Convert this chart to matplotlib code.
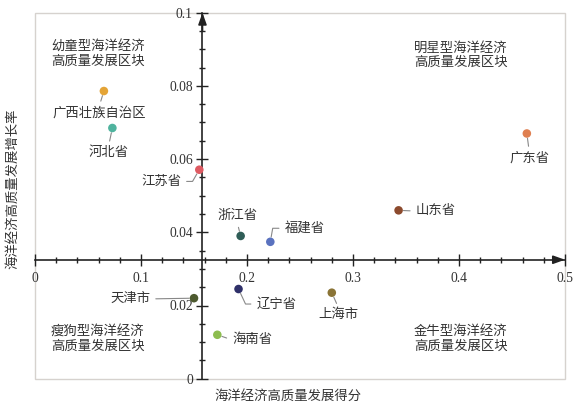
import matplotlib
matplotlib.use("Agg")
import matplotlib.pyplot as plt
from matplotlib.patches import Rectangle

plt.rcParams['font.family'] = ['Liberation Serif', 'Noto Sans CJK SC', 'DejaVu Sans']

# ---------------- data ----------------
names = ['广西壮族自治区', '河北省', '江苏省', '浙江省', '福建省', '天津市',
         '辽宁省', '海南省', '广东省', '山东省', '上海市']
score = [0.065, 0.073, 0.155, 0.194, 0.222, 0.150, 0.192, 0.172, 0.464, 0.343, 0.280]
growth = [0.0786, 0.0685, 0.0571, 0.0390, 0.0374, 0.0220, 0.0245, 0.0120, 0.0670, 0.0460, 0.0235]
colors = ['#e4a436', '#4fb39e', '#de5a62', '#2f5d57', '#5a72bf', '#4d5a2f',
          '#2f3069', '#8dbd4f', '#df7f50', '#8c4a2d', '#8a7436']
label_x = [0.0605, 0.0693, 0.1189, 0.1906, 0.2543, 0.0898, 0.2278, 0.2048, 0.4663, 0.378, 0.2867]
label_y = [0.0726, 0.0617, 0.0539, 0.0445, 0.0411, 0.0218, 0.0204, 0.0106, 0.0603, 0.0458, 0.0174]

quad_text = ['幼童型海洋经济\n高质量发展区块', '明星型海洋经济\n高质量发展区块',
             '瘦狗型海洋经济\n高质量发展区块', '金牛型海洋经济\n高质量发展区块']
quad_x = [0.0593, 0.4017, 0.0593, 0.4017]
quad_y = [0.0886, 0.0883, 0.0108, 0.0108]

x_cross = 0.158   # vertical axis position
y_cross = 0.0325  # horizontal axis position
xticks = [0, 0.1, 0.2, 0.3, 0.4, 0.5]
xtick_labels = ['0', '0.1', '0.2', '0.3', '0.4', '0.5']
yticks = [0, 0.02, 0.04, 0.06, 0.08, 0.1]
ytick_labels = ['0', '0.02', '0.04', '0.06', '0.08', '0.1']

# leader-line styles (relpos on text, connection style)
leader = [
    ((0.5, 1.0), 'arc3'),
    ((0.5, 1.0), 'arc3'),
    ((1.0, 0.5), 'angle,angleA=0,angleB=60,rad=0'),
    ((0.5, 0.0), 'arc3'),
    ((0.0, 0.5), 'angle,angleA=0,angleB=80,rad=0'),
    ((1.0, 0.5), 'arc3'),
    ((0.0, 0.5), 'angle,angleA=0,angleB=115,rad=0'),
    ((0.0, 0.5), 'arc3'),
    ((0.5, 1.0), 'arc3'),
    ((0.0, 0.5), 'arc3'),
    ((0.5, 1.0), 'arc3'),
]

# ---------------- figure ----------------
fig = plt.figure(figsize=(5.85, 4.12), dpi=100)
ax = fig.add_axes([35 / 585, 1 - 378.7 / 412, 530 / 585, (378.7 - 12.7) / 412])
ax.set_xlim(0, 0.5)
ax.set_ylim(0, 0.1)

for s in ['top', 'right']:
    ax.spines[s].set_visible(False)
ax.spines['left'].set_position(('data', x_cross))
ax.spines['bottom'].set_position(('data', y_cross))
for s in ['left', 'bottom']:
    ax.spines[s].set_color('#222222')
    ax.spines[s].set_linewidth(1.2)

frame = Rectangle((0, 0), 1, 1, transform=ax.transAxes, fill=False,
                  edgecolor='#d6d2ce', linewidth=1.0, clip_on=False, zorder=0)
ax.add_patch(frame)

ax.set_xticks(xticks)
ax.set_xticklabels(xtick_labels)
ax.set_yticks(yticks)
ax.set_yticklabels(ytick_labels)
ax.set_xticks([i * 0.02 for i in range(26)], minor=True)
ax.set_yticks([i * 0.005 for i in range(21)], minor=True)
ax.tick_params(which='major', direction='inout', length=8, width=1.0, color='#222222',
               labelsize=9.8, labelcolor='#333333')
ax.tick_params(axis='x', which='major', pad=5)
ax.tick_params(axis='y', which='major', pad=3)
ax.tick_params(which='minor', direction='inout', length=4.5, width=1.0, color='#222222')

# arrow heads
ax.annotate('', xy=(x_cross, 0.1), xytext=(x_cross, 0.095),
            arrowprops=dict(arrowstyle='-|>,head_length=0.7,head_width=0.25', color='#222222', lw=1.2,
                            shrinkA=0, shrinkB=0), annotation_clip=False)
ax.annotate('', xy=(0.5, y_cross), xytext=(0.49, y_cross),
            arrowprops=dict(arrowstyle='-|>,head_length=0.7,head_width=0.25', color='#222222', lw=1.2,
                            shrinkA=0, shrinkB=0), annotation_clip=False)

# points
ax.scatter(score, growth, s=38, c=colors, zorder=5, edgecolors='none', clip_on=False)

# labels
for i, n in enumerate(names):
    rel, cs = leader[i]
    ax.annotate(n, xy=(score[i], growth[i]), xytext=(label_x[i], label_y[i]),
                ha='center', va='center', fontsize=9.6, color='#333333',
                arrowprops=dict(arrowstyle='-', color='#888888', lw=0.8,
                                shrinkA=2, shrinkB=3.5, relpos=rel, connectionstyle=cs))

for t, qx, qy in zip(quad_text, quad_x, quad_y):
    ax.text(qx, qy, t, ha='center', va='center', fontsize=9.6, color='#333333',
            linespacing=1.25)

fig.text(287.5 / 585, 1 - 396 / 412, '海洋经济高质量发展得分', ha='center', va='center',
         fontsize=9.6, color='#333333')
fig.text(13 / 585, 1 - 189 / 412, '海洋经济高质量发展增长率', ha='center', va='center',
         rotation=90, fontsize=9.6, color='#333333')

fig.savefig('out.png', dpi=100)
